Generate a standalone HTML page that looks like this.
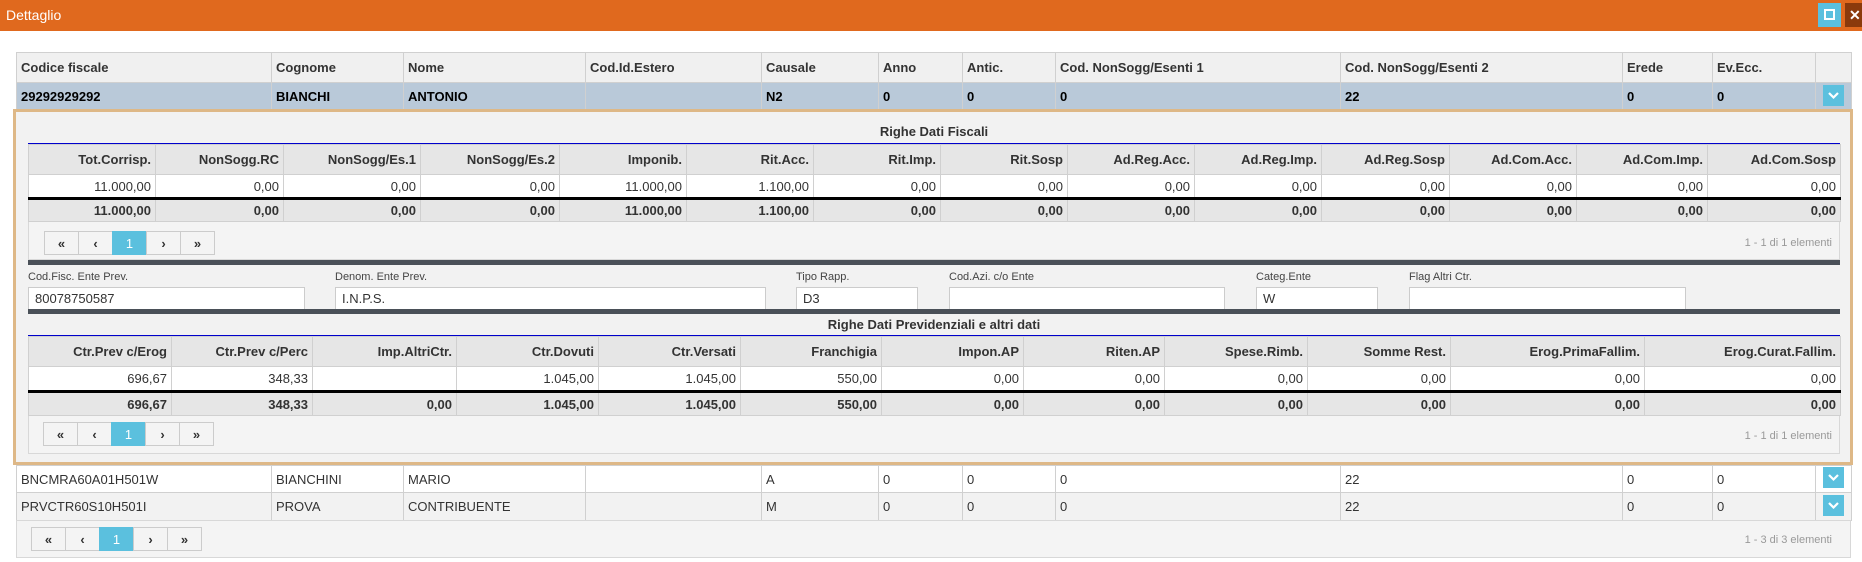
<!DOCTYPE html>
<html><head><meta charset="utf-8"><style>
*{box-sizing:border-box;margin:0;padding:0}
body{width:1862px;height:562px;background:#fff;font-family:"Liberation Sans",Arial,sans-serif;font-size:13px;color:#333;position:relative;overflow:hidden}
.abs{position:absolute}
table{border-collapse:collapse;table-layout:fixed;position:absolute}
td,th{border:1px solid #d0d0d0;white-space:nowrap;overflow:hidden;padding:0 4px}
th{font-weight:bold;text-align:left}
.num td,.num th{text-align:right}
.pager{position:absolute;display:flex;height:24px}
.pager span{width:35px;height:24px;border:1px solid #ccc;margin-left:-1px;background:#f4f4f4;display:flex;align-items:center;justify-content:center;font-weight:bold;font-size:13px;color:#333}
.pager span.a{background:#5bc0de;color:#fff;font-weight:normal;border-color:#5bc0de}
.lbl{position:absolute;font-size:11px;color:#444}
.inp{position:absolute;background:#fff;border:1px solid #ccc;height:23px;padding:3px 6px;font-size:13px;color:#333}
.dd{position:absolute;width:21px;height:21px;background:#5bc0de}
.info{position:absolute;font-size:11px;color:#999}
</style></head><body>
<div class="abs" style="left:0;top:0;width:1862px;height:31px;background:#e0691e"></div>
<div class="abs" style="left:6px;top:7px;color:#fff;font-size:14px">Dettaglio</div>
<div class="abs" style="left:1818px;top:3px;width:23px;height:24px;background:#5bc0de"><div style="position:absolute;left:6px;top:6px;width:11px;height:11px;border:2px solid #fff"></div></div>
<div class="abs" style="left:1845px;top:3px;width:17px;height:24px;background:#8b3a0c;color:#fff;font-weight:bold;font-size:14px;padding-left:4px;line-height:24px">✕</div>

<table style="left:16px;top:52px;width:1835px">
<colgroup><col style="width:255px"><col style="width:132px"><col style="width:182px"><col style="width:176px"><col style="width:117px"><col style="width:84px"><col style="width:93px"><col style="width:285px"><col style="width:282px"><col style="width:90px"><col style="width:103px"><col style="width:36px"></colgroup>
<tr style="height:30px;background:#f0f0f0"><th>Codice fiscale</th><th>Cognome</th><th>Nome</th><th>Cod.Id.Estero</th><th>Causale</th><th>Anno</th><th>Antic.</th><th>Cod. NonSogg/Esenti 1</th><th>Cod. NonSogg/Esenti 2</th><th>Erede</th><th>Ev.Ecc.</th><th></th></tr>
<tr style="height:27px;background:#b9c9d9;font-weight:bold;color:#000"><td>29292929292</td><td>BIANCHI</td><td>ANTONIO</td><td></td><td>N2</td><td>0</td><td>0</td><td>0</td><td>22</td><td>0</td><td>0</td><td></td></tr>
</table>
<svg class="dd" style="left:1823px;top:85px" viewBox="0 0 21 21"><path d="M6 8 L10.5 12.5 L15 8" stroke="#fff" stroke-width="2.2" fill="none"/></svg>

<div class="abs" style="left:13px;top:109px;width:1840px;height:356px;background:#f2f2f2;border:3px solid #deb887"></div>
<div class="abs" style="left:28px;top:124px;width:1812px;text-align:center;font-weight:bold;font-size:13px">Righe Dati Fiscali</div>
<div class="abs" style="left:28px;top:143px;width:1812px;height:1px;background:#0000cc"></div>
<table class="num" style="left:28px;top:144px;width:1812px">
<colgroup><col style="width:127px"><col style="width:128px"><col style="width:137px"><col style="width:139px"><col style="width:127px"><col style="width:127px"><col style="width:127px"><col style="width:127px"><col style="width:127px"><col style="width:127px"><col style="width:128px"><col style="width:127px"><col style="width:131px"><col style="width:133px"></colgroup>
<tr style="height:30px;background:#e6e6e6"><th>Tot.Corrisp.</th><th>NonSogg.RC</th><th>NonSogg/Es.1</th><th>NonSogg/Es.2</th><th>Imponib.</th><th>Rit.Acc.</th><th>Rit.Imp.</th><th>Rit.Sosp</th><th>Ad.Reg.Acc.</th><th>Ad.Reg.Imp.</th><th>Ad.Reg.Sosp</th><th>Ad.Com.Acc.</th><th>Ad.Com.Imp.</th><th>Ad.Com.Sosp</th></tr>
<tr style="height:24px;background:#fff;border-bottom:3px solid #000"><td>11.000,00</td><td>0,00</td><td>0,00</td><td>0,00</td><td>11.000,00</td><td>1.100,00</td><td>0,00</td><td>0,00</td><td>0,00</td><td>0,00</td><td>0,00</td><td>0,00</td><td>0,00</td><td>0,00</td></tr>
<tr style="height:23px;background:#e6e6e6;font-weight:bold"><td>11.000,00</td><td>0,00</td><td>0,00</td><td>0,00</td><td>11.000,00</td><td>1.100,00</td><td>0,00</td><td>0,00</td><td>0,00</td><td>0,00</td><td>0,00</td><td>0,00</td><td>0,00</td><td>0,00</td></tr>
</table>
<div class="abs" style="left:28px;top:222px;width:1812px;height:38px;background:#f4f4f4;border:1px solid #d8d8d8;border-top:none"></div>
<div class="pager" style="left:45px;top:231px"><span>«</span><span>‹</span><span class="a">1</span><span>›</span><span>»</span></div>
<div class="info" style="right:30px;top:237px">1 - 1 di 1 elementi</div>
<div class="abs" style="left:28px;top:260px;width:1812px;height:5px;background:#4a5058"></div>
<div class="lbl" style="left:28px;top:271px">Cod.Fisc. Ente Prev.</div>
<div class="lbl" style="left:335px;top:271px">Denom. Ente Prev.</div>
<div class="lbl" style="left:796px;top:271px">Tipo Rapp.</div>
<div class="lbl" style="left:949px;top:271px">Cod.Azi. c/o Ente</div>
<div class="lbl" style="left:1256px;top:271px">Categ.Ente</div>
<div class="lbl" style="left:1409px;top:271px">Flag Altri Ctr.</div>
<div class="inp" style="left:28px;top:287px;width:277px">80078750587</div>
<div class="inp" style="left:335px;top:287px;width:431px">I.N.P.S.</div>
<div class="inp" style="left:796px;top:287px;width:122px">D3</div>
<div class="inp" style="left:949px;top:287px;width:276px"></div>
<div class="inp" style="left:1256px;top:287px;width:122px">W</div>
<div class="inp" style="left:1409px;top:287px;width:277px"></div>
<div class="abs" style="left:28px;top:309px;width:1812px;height:5px;background:#4a5058"></div>
<div class="abs" style="left:28px;top:317px;width:1812px;text-align:center;font-weight:bold">Righe Dati Previdenziali e altri dati</div>
<div class="abs" style="left:28px;top:335px;width:1812px;height:1px;background:#0000cc"></div>
<table class="num" style="left:28px;top:336px;width:1812px">
<colgroup><col style="width:143px"><col style="width:141px"><col style="width:144px"><col style="width:142px"><col style="width:142px"><col style="width:141px"><col style="width:142px"><col style="width:141px"><col style="width:143px"><col style="width:143px"><col style="width:194px"><col style="width:196px"></colgroup>
<tr style="height:30px;background:#e6e6e6"><th>Ctr.Prev c/Erog</th><th>Ctr.Prev c/Perc</th><th>Imp.AltriCtr.</th><th>Ctr.Dovuti</th><th>Ctr.Versati</th><th>Franchigia</th><th>Impon.AP</th><th>Riten.AP</th><th>Spese.Rimb.</th><th>Somme Rest.</th><th>Erog.PrimaFallim.</th><th>Erog.Curat.Fallim.</th></tr>
<tr style="height:25px;background:#fff;border-bottom:3px solid #000"><td>696,67</td><td>348,33</td><td></td><td>1.045,00</td><td>1.045,00</td><td>550,00</td><td>0,00</td><td>0,00</td><td>0,00</td><td>0,00</td><td>0,00</td><td>0,00</td></tr>
<tr style="height:24px;background:#e6e6e6;font-weight:bold"><td>696,67</td><td>348,33</td><td>0,00</td><td>1.045,00</td><td>1.045,00</td><td>550,00</td><td>0,00</td><td>0,00</td><td>0,00</td><td>0,00</td><td>0,00</td><td>0,00</td></tr>
</table>
<div class="abs" style="left:28px;top:416px;width:1812px;height:38px;background:#f4f4f4;border:1px solid #d8d8d8;border-top:none"></div>
<div class="pager" style="left:44px;top:422px"><span>«</span><span>‹</span><span class="a">1</span><span>›</span><span>»</span></div>
<div class="info" style="right:30px;top:430px">1 - 1 di 1 elementi</div>

<table style="left:16px;top:465px;width:1835px">
<colgroup><col style="width:255px"><col style="width:132px"><col style="width:182px"><col style="width:176px"><col style="width:117px"><col style="width:84px"><col style="width:93px"><col style="width:285px"><col style="width:282px"><col style="width:90px"><col style="width:103px"><col style="width:36px"></colgroup>
<tr style="height:27px;background:#fff"><td>BNCMRA60A01H501W</td><td>BIANCHINI</td><td>MARIO</td><td></td><td>A</td><td>0</td><td>0</td><td>0</td><td>22</td><td>0</td><td>0</td><td></td></tr>
<tr style="height:28px;background:#f2f2f2"><td>PRVCTR60S10H501I</td><td>PROVA</td><td>CONTRIBUENTE</td><td></td><td>M</td><td>0</td><td>0</td><td>0</td><td>22</td><td>0</td><td>0</td><td></td></tr>
</table>
<svg class="dd" style="left:1823px;top:467px" viewBox="0 0 21 21"><path d="M6 8 L10.5 12.5 L15 8" stroke="#fff" stroke-width="2.2" fill="none"/></svg>
<svg class="dd" style="left:1823px;top:495px" viewBox="0 0 21 21"><path d="M6 8 L10.5 12.5 L15 8" stroke="#fff" stroke-width="2.2" fill="none"/></svg>
<div class="abs" style="left:16px;top:520px;width:1835px;height:38px;background:#f4f4f4;border:1px solid #d8d8d8"></div>
<div class="pager" style="left:32px;top:527px"><span>«</span><span>‹</span><span class="a">1</span><span>›</span><span>»</span></div>
<div class="info" style="right:30px;top:534px">1 - 3 di 3 elementi</div>
</body></html>
